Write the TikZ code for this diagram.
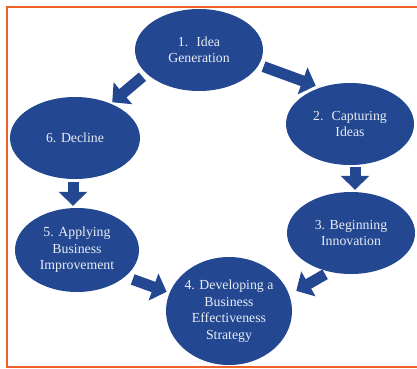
\documentclass[tikz,border=0pt]{standalone}
\usepackage{fontspec}
\setmainfont{Liberation Serif}
\usetikzlibrary{arrows.meta,shapes.geometric}

\definecolor{stageblue}{RGB}{35,72,145}
\definecolor{stagetext}{RGB}{232,236,244}
\definecolor{frameorange}{RGB}{238,98,42}

\begin{document}
\begin{tikzpicture}[
    x=1pt, y=-1pt,
    stage/.style={
        ellipse,
        fill=stageblue,
        text=stagetext,
        inner sep=0pt,
        align=center,
        font=\fontsize{13.8}{16.5}\selectfont
    },
    flow/.style={
        draw=stageblue,
        line width=11pt,
        -{Triangle[length=14pt,width=28pt]}
    }
]

\useasboundingbox (0,0) rectangle (417,368);

% ------------------------------------------------
% Frame
% ------------------------------------------------

\draw[frameorange, line width=2pt]
    (417,6.5) -- (6.5,6.5) -- (6.5,366.5) -- (417,366.5);

% ------------------------------------------------
% Stages
% ------------------------------------------------

\node[stage, minimum width=128pt, minimum height=82pt] (idea) at (199,50)
    {1.~ Idea\\Generation};

\node[stage, minimum width=128pt, minimum height=82pt] (capture) at (350,124)
    {2.~ Capturing\\Ideas};

\node[stage, minimum width=128pt, minimum height=82pt] (begin) at (351,233)
    {3. Beginning\\Innovation};

\node[stage, minimum width=126pt, minimum height=108pt] (develop) at (229,311)
    {4. Developing a\\Business\\Effectiveness\\Strategy};

\node[stage, minimum width=124pt, minimum height=84pt] (apply) at (77,250)
    {5. Applying\\Business\\Improvement};

\node[stage, minimum width=130pt, minimum height=82pt] (decline) at (75,138)
    {6. Decline};

% ------------------------------------------------
% Block arrows
% ------------------------------------------------

\draw[flow, shorten <=5pt, shorten >=5pt] (idea.346) -- (capture.129);
\draw[flow, shorten <=2pt, shorten >=2pt]
    ([xshift=5pt]capture.south) -- ([xshift=5pt]capture.south |- begin.north);
\draw[flow, shorten <=5pt, shorten >=8pt] (begin.241) -- (develop.15);
\draw[flow, shorten <=8pt, shorten >=3pt] (apply.331) -- (develop.163);
\draw[flow, shorten <=3pt, shorten >=2pt]
    ([xshift=-2pt]decline.south) -- ([xshift=-2pt]decline.south |- apply.north);
\draw[flow, shorten <=5pt, shorten >=2pt] (idea.204) -- (decline.44);

\end{tikzpicture}
\end{document}
